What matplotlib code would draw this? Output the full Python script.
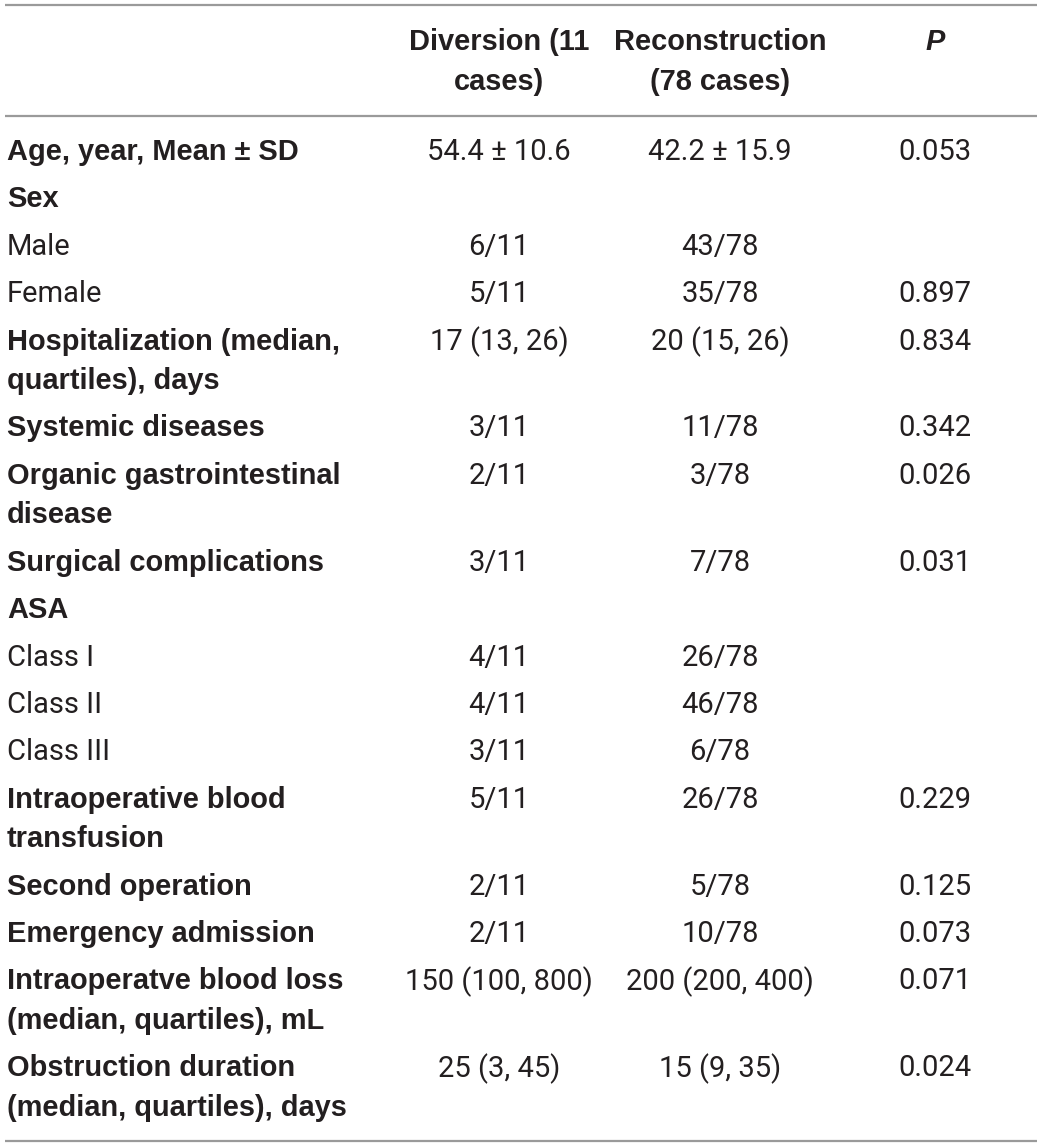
import matplotlib.pyplot as plt

# table content
labels = ["Age, year, Mean \u00b1 SD", "Sex", "Male", "Female",
          "Hospitalization (median,\nquartiles), days", "Systemic diseases",
          "Organic gastrointestinal\ndisease", "Surgical complications", "ASA",
          "Class I", "Class II", "Class III", "Intraoperative blood\ntransfusion",
          "Second operation", "Emergency admission",
          "Intraoperatve blood loss\n(median, quartiles), mL",
          "Obstruction duration\n(median, quartiles), days"]
bold = [True, True, False, False, True, True, True, True, True,
        False, False, False, True, True, True, True, True]
diversion = ["54.4 \u00b1 10.6", "", "6/11", "5/11", "17 (13, 26)", "3/11", "2/11",
             "3/11", "", "4/11", "4/11", "3/11", "5/11", "2/11", "2/11",
             "150 (100, 800)", "25 (3, 45)"]
reconstruction = ["42.2 \u00b1 15.9", "", "43/78", "35/78", "20 (15, 26)", "11/78", "3/78",
                  "7/78", "", "26/78", "46/78", "6/78", "26/78", "5/78", "10/78",
                  "200 (200, 400)", "15 (9, 35)"]
p_values = ["0.053", "", "", "0.897", "0.834", "0.342", "0.026", "0.031", "",
            "", "", "", "0.229", "0.125", "0.073", "0.071", "0.024"]
headers = ["Diversion (11\ncases)", "Reconstruction\n(78 cases)", "P"]

W, H = 1040, 1148
fig = plt.figure(figsize=(W / 100, H / 100), dpi=100)
ax = fig.add_axes([0, 0, 1, 1])
ax.set_xlim(0, W)
ax.set_ylim(H, 0)
ax.axis("off")

TXT = "#231f20"
LINE = "#9a9a9a"
FS_B = 20.9
FS_N = 21
fam = ["Liberation Sans", "DejaVu Sans"]
fam_val = ["Roboto", "Liberation Sans", "DejaVu Sans"]
col_x = [499, 720, 935]
LSTEP = 39.5
RSTEP = 47.4

for y in (5, 116, 1141):
    ax.plot([5, 1037], [y, y], color=LINE, lw=1.6, solid_capstyle="butt")

# header
for i, h in enumerate(headers):
    lines = h.split("\n")
    for j, t in enumerate(lines):
        ax.text(col_x[i], 42 + j * LSTEP, t, ha="center", va="center", fontsize=FS_B,
                family=fam, weight="bold", color=TXT,
                style="italic" if h == "P" else "normal")

y = 152
for k in range(len(labels)):
    lab_lines = labels[k].split("\n")
    for j, t in enumerate(lab_lines):
        ax.text(7, y + j * LSTEP, t, ha="left", va="center",
                fontsize=FS_B if bold[k] else FS_N,
                family=fam if bold[k] else fam_val,
                weight="bold" if bold[k] else "normal", color=TXT)
    for cx, v in zip(col_x, (diversion[k], reconstruction[k], p_values[k])):
        if v:
            ax.text(cx, y, v, ha="center", va="center", fontsize=FS_N,
                    family=fam_val, weight="normal", color=TXT)
    y += RSTEP + LSTEP * (len(lab_lines) - 1)

fig.savefig("out.png", dpi=100, facecolor="white")
